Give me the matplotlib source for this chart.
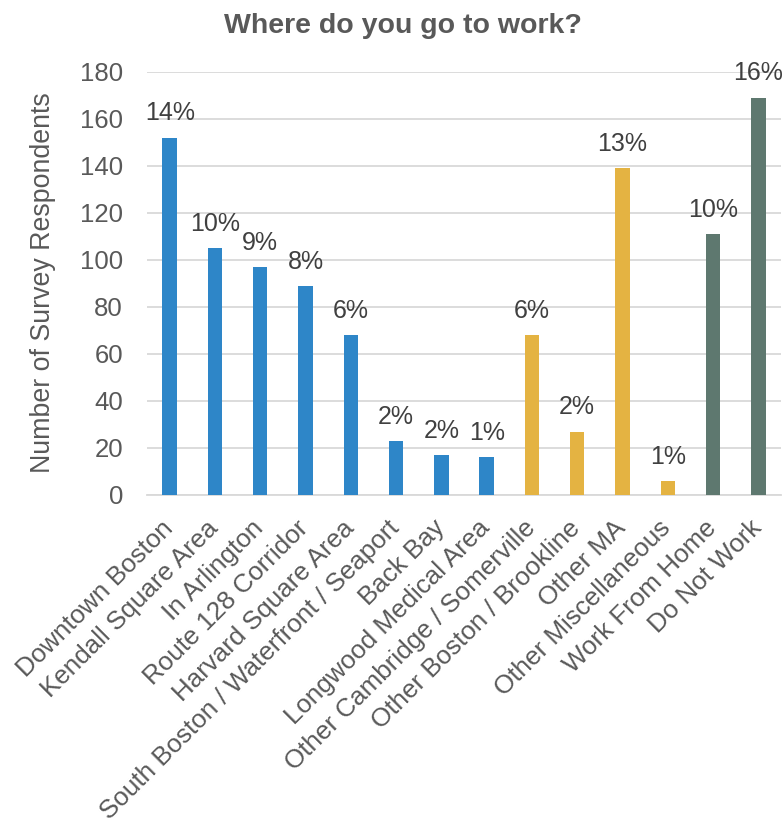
import matplotlib
matplotlib.use("Agg")
import matplotlib.pyplot as plt
from matplotlib.transforms import ScaledTranslation

categories = ["Downtown Boston", "Kendall Square Area", "In Arlington", "Route 128 Corridor",
              "Harvard Square Area", "South Boston / Waterfront / Seaport", "Back Bay",
              "Longwood Medical Area", "Other Cambridge / Somerville", "Other Boston / Brookline",
              "Other MA", "Other Miscellaneous", "Work From Home", "Do Not Work"]
values = [152, 105, 97, 89, 68, 23, 17, 16, 68, 27, 139, 6, 111, 169]
pct_labels = ["14%", "10%", "9%", "8%", "6%", "2%", "2%", "1%", "6%", "2%", "13%", "1%", "10%", "16%"]
groups = ["blue"] * 8 + ["yellow"] * 4 + ["green"] * 2
palette = {"blue": "#2E86C8", "yellow": "#E4B342", "green": "#5E786F"}
yticks = [0, 20, 40, 60, 80, 100, 120, 140, 160, 180]

plt.rcParams['font.family'] = ['Liberation Sans', 'DejaVu Sans']

W, H = 784, 825
fig = plt.figure(figsize=(W / 100, H / 100), dpi=100)
ax = fig.add_axes([147 / W, 1 - 495 / H, (781 - 147) / W, (495 - 71.7) / H])

x = list(range(len(categories)))
ax.bar(x, values, width=0.32, color=[palette[g] for g in groups], zorder=3)

for xi, v, lab in zip(x, values, pct_labels):
    ax.annotate(lab, (xi, v), xytext=(0, 12.3), textcoords="offset points",
                ha="center", va="baseline", fontsize=18, color="#404040",
                annotation_clip=False, zorder=4)

ax.set_xlim(-0.5, len(categories) - 0.5)
ax.set_ylim(0, 180)
ax.set_yticks(yticks)
ax.yaxis.grid(True, color="#D9D9D9", linewidth=1.3, zorder=0)
ax.set_axisbelow(True)
for s in ["top", "right", "left"]:
    ax.spines[s].set_visible(False)
ax.spines["bottom"].set_color("#D9D9D9")
ax.spines["bottom"].set_linewidth(1.3)
ax.tick_params(axis="both", length=0, colors="#595959", labelsize=18.5)
ax.tick_params(axis="y", pad=17.3)
ax.set_xticks(x)
ax.set_xticklabels(categories, rotation=45, ha="right", rotation_mode="anchor", fontsize=18.7)
ax.tick_params(axis="x", pad=15)
shift = ScaledTranslation(-9 / 100, 0, fig.dpi_scale_trans)
for t in ax.get_xticklabels():
    t.set_color("#595959")
    t.set_transform(t.get_transform() + shift)

fig.text(43 / W, 1 - 283 / H, "Number of Survey Respondents", rotation=90,
         ha="center", va="center", fontsize=19.3, color="#595959")

fig.text(403 / W, 1 - 33 / H, "Where do you go to work?", ha="center", va="baseline",
         fontsize=20.5, fontweight="bold", color="#595959")

fig.savefig("out.png", dpi=100)
